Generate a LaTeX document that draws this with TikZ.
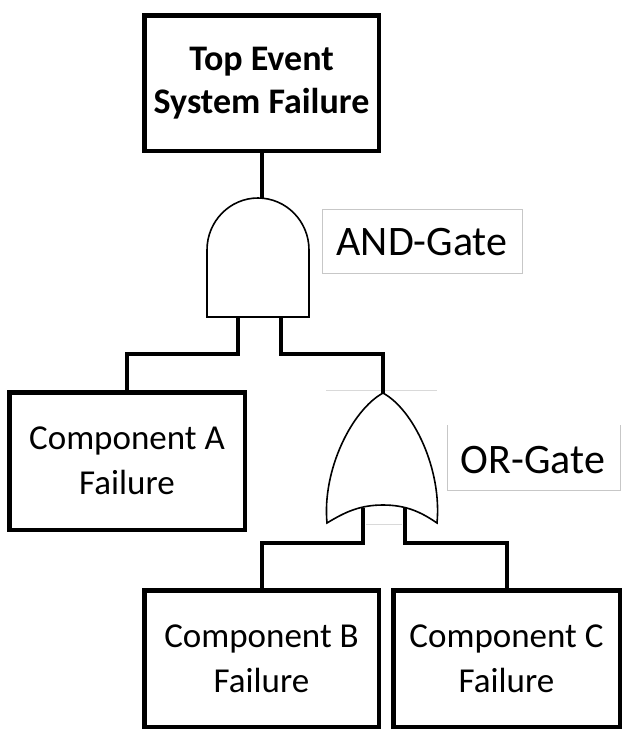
\documentclass[tikz,border=0pt]{standalone}
\usepackage{fontspec}
\setmainfont{Carlito}
\begin{document}
\begin{tikzpicture}[x=1pt,y=-1pt,
  evbox/.style={draw=black, line width=4.5pt, fill=white, align=center, inner sep=0pt,
    font=\fontsize{35}{45}\selectfont},
  conn/.style={draw=black, line width=4pt},
  gateline/.style={draw=black, line width=1.6pt, fill=white},
  lblbox/.style={draw=black!22, line width=1pt},
  lbl/.style={font=\fontsize{42}{48}\selectfont, inner sep=0pt},
  faint/.style={draw=black!15, line width=0.8pt}]
\useasboundingbox (0,0) rectangle (628,745);

% boxes
\node[evbox, minimum width=234.5pt, minimum height=135.5pt, font=\fontsize{36}{43}\selectfont\bfseries]
  (top) at (261.5,83) {Top Event\\System Failure};
\node[evbox, minimum width=235.5pt, minimum height=137.5pt] (A) at (127,461) {Component A\\Failure};
\node[evbox, minimum width=234.5pt, minimum height=136.5pt] (B) at (261.5,658.5) {Component B\\Failure};
\node[evbox, minimum width=226.5pt, minimum height=136.5pt] (C) at (506.5,658.5) {Component C\\Failure};

% AND gate
\coordinate (andtop) at (258,198);
\coordinate (andL) at (238,317);
\coordinate (andR) at (281,317);
\draw[gateline] (207,317) -- (207,250) arc[start angle=180, end angle=360, x radius=51, y radius=52] -- (309,317) -- cycle;

% OR gate
\coordinate (ortop) at (383,393);
\coordinate (orL) at (363,508);
\coordinate (orR) at (405,508);
\draw[gateline] (ortop) .. controls (352,410) and (322,470) .. (327,523)
  .. controls (345,512) and (360,505) .. (383,505)
  .. controls (406,505) and (421,512) .. (437,523)
  .. controls (442,470) and (414,410) .. (ortop) -- cycle;
\draw[faint] (326,390) -- (437,390);
\draw[faint] (366,524) -- (402,524);

% connectors
\draw[conn] (top.south) -- (top.south |- andtop);
\draw[conn] (andL) -- (andL |- 0,354) -| (A.north);
\draw[conn] (andR) -- (andR |- 0,354) -| (ortop);
\draw[conn] (orL) -- (orL |- 0,543) -| (B.north);
\draw[conn] (orR) -- (orR |- 0,543) -| (C.north);

% labels
\draw[lblbox] (322,209) rectangle (522,273);
\node[lbl] (andlbl) at (422,242) {AND-Gate};
\draw[lblbox] (447,425) -- (447,490) -- (620,490) -- (620,425);
\node[lbl] (orlbl) at (533,460) {OR-Gate};
\end{tikzpicture}
\end{document}
